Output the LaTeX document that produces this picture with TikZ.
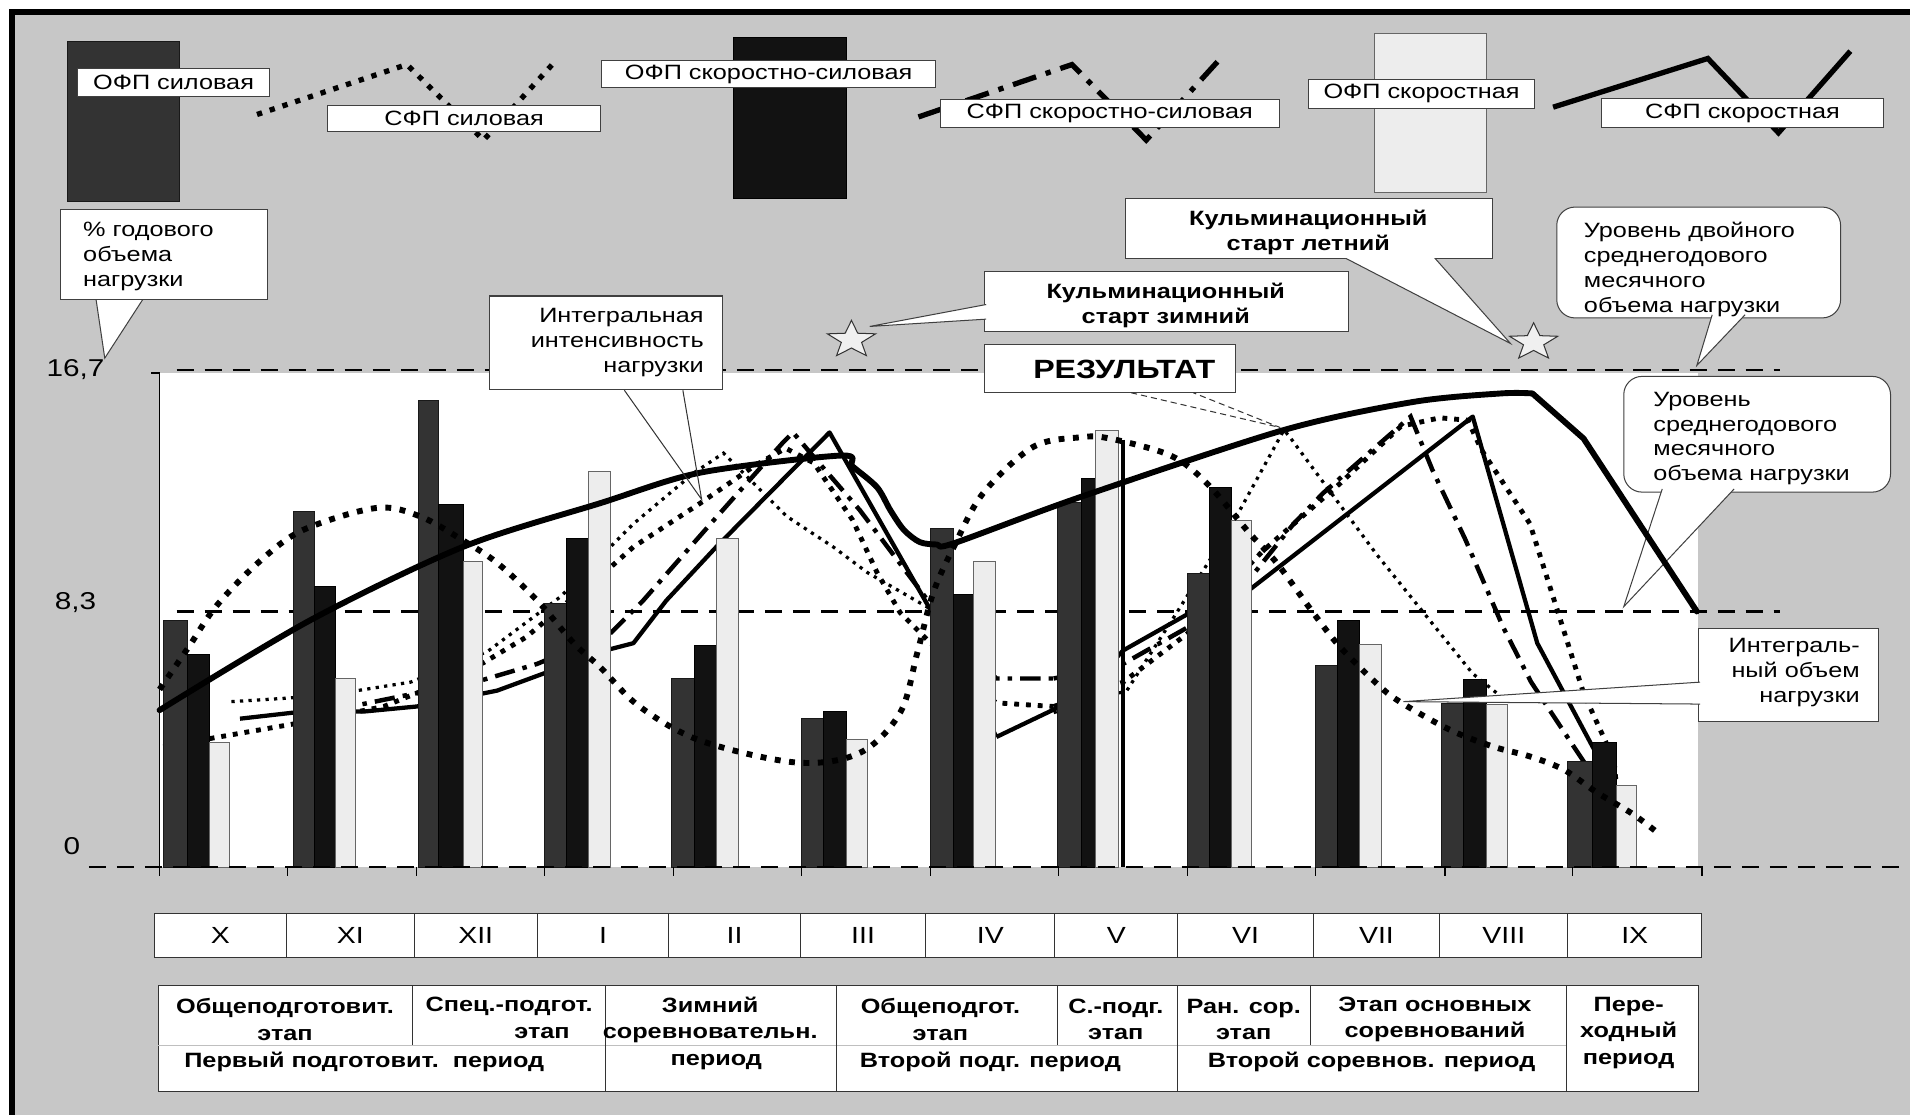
\documentclass[tikz,border=0pt]{standalone}
\usepackage{fontspec}
\setmainfont{Liberation Sans}[FakeStretch=1.22]
\usetikzlibrary{calc}
\newcommand\fsR{\fontsize{10.2}{12.3}\selectfont}
\newcommand\fsB{\fontsize{10.2}{12.3}\selectfont\bfseries}
\newcommand\fsRes{\fontsize{13}{15}\selectfont\bfseries}
\newcommand\fsT{\fontsize{10.2}{12.9}\selectfont\bfseries}
\newcommand\fsM{\fontsize{11.5}{13}\selectfont}
\newcommand\fsAx{\fontsize{12}{14}\selectfont}
\tikzset{
  bxs/.style={draw=black!75, line width=0.5pt, fill=white, inner sep=0pt},
  rbx/.style={bxs, rounded corners=9pt},
  ptr/.style={draw=black!75, line width=0.5pt, fill=white, line join=miter},
  txt/.style={inner sep=0pt, font=\fsR},
  refdash/.style={line width=1.1pt, dash pattern=on 8.4pt off 5.4pt},
  intens/.style={line width=2.9pt, line join=round, line cap=round},
  vol/.style={line width=2.9pt, dash pattern=on 2.9pt off 4.2pt},
  bdot/.style={line width=2.4pt, dash pattern=on 2.4pt off 3.4pt},
  fdot/.style={line width=1.6pt, dash pattern=on 1.6pt off 2.6pt},
  dd/.style={line width=2.2pt, dash pattern=on 10pt off 4pt on 2.2pt off 4pt},
  sol/.style={line width=2.1pt, line join=round},
  darkb/.style={fill=black!80, draw=black!90, line width=0.3pt},
  blkb/.style={fill=black!93, draw=black, line width=0.3pt},
  lgtb/.style={fill=black!7, draw=black!60, line width=0.3pt},
  cell/.style={draw=black!80, line width=0.5pt, fill=white, inner sep=0pt, font=\fsM},
  starpic/.pic={\filldraw[fill=black!6, draw=black!80, line width=0.5pt] (0,-16) -- (5.14,-5.44) -- (19.78,-4.94) -- (8.31,2.08) -- (12.23,12.94) -- (0,6.72) -- (-12.23,12.94) -- (-8.31,2.08) -- (-19.78,-4.94) -- (-5.14,-5.44) -- cycle;}
}
\begin{document}
\begin{tikzpicture}[x=0.6pt,y=-0.6pt]
\useasboundingbox (0,0) rectangle (1568,915);
\fill[white] (0,0) rectangle (1568,915);
\fill[black!22] (10,10) rectangle (1568,915);
\draw[line width=2.7pt] (10,915) -- (10,10) -- (1568,10);
% plot area
\fill[white] (131,306) rectangle (1394,712);
\draw[refdash] (145,304) -- (1461,304);
\draw[refdash] (145,502) -- (1461,502);
% group lines (behind bars)
\draw[fdot] (190,576) -- (238,573) -- (293,567) -- (337,560) -- (400,535) -- (460,490) -- (520,430) -- (570,388) -- (594,372) -- (620,398) -- (646,424) -- (684,449) -- (712,470) -- (764,500);
\draw[bdot] (134,613) -- (197,602) -- (260,591) -- (315,580) -- (347,567) -- (397,544) -- (432,523) -- (465,495) -- (493,473) -- (520,449) -- (575,413) -- (620,382) -- (645,368) -- (668,380) -- (700,427) -- (720,470) -- (739,503) -- (764,528) -- (800,565) -- (818,577) -- (865,580);
\draw[dd] (241,585) -- (293,579) -- (342,569) -- (397,558) -- (441,545) -- (501,520) -- (528,493) -- (586,427) -- (643,363) -- (651,355) -- (668,375) -- (706,419) -- (764,496) -- (800,540) -- (818,557) -- (865,557);
\draw[sol] (197,590) -- (241,585) -- (300,584) -- (342,580) -- (408,567) -- (446,553) -- (493,535) -- (520,528) -- (547,493) -- (588,449) -- (681,355) -- (764,501) -- (818,605);
\draw[sol] (818,605) -- (887,572) -- (922,534) -- (977,503) -- (1026,484) -- (1209,342) -- (1262,528) -- (1309,616);
\draw[dd] (865,557) -- (922,545) -- (975,515) -- (1030,470) -- (1062,430) -- (1086,405) -- (1127,369) -- (1158,342) -- (1176,386) -- (1203,443) -- (1234,515) -- (1257,560) -- (1290,610) -- (1310,640);
\draw[bdot] (865,580) -- (922,560) -- (975,520) -- (1010,480) -- (1037,452) -- (1100,397) -- (1150,350) -- (1182,343) -- (1205,345) -- (1216,369) -- (1256,430) -- (1300,569) -- (1325,624) -- (1330,680);
\draw[fdot] (865,585) -- (925,567) -- (966,503) -- (993,460) -- (1015,424) -- (1054,353) -- (1059,359) -- (1130,455) -- (1209,553) -- (1230,570);
% bars
\foreach \a/\b/\c/\d/\ha/\hb/\hc in {
134/154/172/188/509/537/609,
241/258/275/292/420/481/557,
343/360/380/396/329/414/461,
447/465/483/501/495/442/387,
551/570/588/606/557/530/442,
658/676/695/712/590/584/607,
764/783/799/817/434/488/461,
868/888/899/918/412/393/353,
975/993/1011/1027/471/400/427,
1080/1098/1116/1134/546/509/529,
1183/1201/1220/1237/577/558/578,
1287/1307/1327/1343/625/609/645}{
  \filldraw[darkb] (\a,712) rectangle (\b,\ha);
  \filldraw[blkb] (\b,712) rectangle (\c,\hb);
  \filldraw[lgtb] (\c,712) rectangle (\d,\hc);
}
\draw[line width=1.8pt] (922,361) -- (922,712);
% axes
\draw[refdash] (73,712) -- (1559,712);
\draw[line width=0.9pt] (124,306) -- (131,306) -- (131,719);
\foreach \x in {236,342,447,553,658,764,869,975,1080,1186,1291,1397} \draw[line width=0.8pt] (\x,712) -- (\x,719);
% callout boxes inside plot
\node[bxs, minimum width=88.8pt, minimum height=45.6pt] (biv) at (1468,554) {};
\coordinate (tiv) at (1152,576);
\filldraw[ptr] ($(biv.west)+(2,6)$) -- (tiv) -- ($(biv.west)+(2,24)$);
\node[rbx, minimum width=131.4pt, minimum height=57pt] (bus) at (1442.5,356.5) {};
\coordinate (tus) at (1333,498);
\filldraw[ptr] ($(bus.south west)+(32,-3)$) -- (tus) -- ($(bus.south west)+(91,-3)$);
% volume wave and intensity
\draw[vol] plot[smooth, tension=0.55] coordinates {(131,566) (155,531) (178,497) (213,461) (249,435) (309,417) (345,424) (379,443) (408,462) (441,493) (471,528) (493,548) (525,580) (575,608) (654,626) (706,618) (739,585) (753,536) (766,487) (783,449) (807,405) (848,367) (887,359) (911,360) (961,374) (991,397) (1026,438) (1048,462) (1078,503) (1100,531) (1130,561) (1149,576) (1190,599) (1226,613) (1256,621) (1284,632) (1310,650) (1340,668) (1360,683)};
\draw[intens] plot[smooth, tension=0.5] coordinates {(131,583) (255,509) (380,449) (493,413) (575,388) (690,374) (700,383) (720,400) (731,419) (742,435) (755,445) (769,447) (783,446) (887,408) (1054,353) (1160,330) (1232,323) (1258,323)} -- (1300,360) -- (1393,502);
% intensity callout
\node[bxs, minimum width=114.6pt, minimum height=46.2pt] (bint) at (497.5,281.5) {};
\coordinate (tint) at (576,410);
\draw[black!80, line width=0.5pt] ($(bint.south west)+(111,0)$) -- (tint) -- ($(bint.south west)+(159,0)$);
\node[txt, anchor=east, align=right] (lint) at (578,281) {Интегральная\\интенсивность\\нагрузки};
% result callout
\node[bxs, minimum width=123.6pt, minimum height=23.4pt] (bres) at (911,302.5) {};
\coordinate (tres) at (1051,351);
\draw[black!80, line width=0.5pt, densely dashed] ($(bres.south west)+(121,0)$) -- (tres) -- ($(bres.south west)+(172,0)$);
\node[txt, font=\fsRes] (lres) at (923,303) {РЕЗУЛЬТАТ};
% texts of inner callouts
\node[txt, anchor=west, align=left] (lus) at (1357,360) {Уровень\\среднегодового\\месячного\\объема нагрузки};
\node[txt, anchor=east, align=right] (liv) at (1527,552) {Интеграль-\\ный объем\\нагрузки};
% outer callouts
\coordinate (tpct) at (86,294);
\filldraw[ptr] (78,240) -- (tpct) -- (121,240);
\node[bxs, minimum width=102pt, minimum height=44.4pt] (bpct) at (135,209) {};
\node[txt, anchor=west, align=left] (lpct) at (68,210.5) {\% годового\\объема\\нагрузки};
\pic (s1) at (699,279) {starpic};
\pic (s2) at (1259,281) {starpic};
\node[bxs, minimum width=179.4pt, minimum height=29.4pt] (bkz) at (957.5,247.5) {};
\coordinate (tkz) at (714,268);
\filldraw[ptr] ($(bkz.west)+(2,2.5)$) -- (tkz) -- ($(bkz.west)+(2,14.5)$);
\node[txt, font=\fsB, align=center] (lkz) at (957,251) {Кульминационный\\старт зимний};
\coordinate (tkl) at (1240,282);
\node[bxs, minimum width=180.6pt, minimum height=29.4pt] (bkl) at (1074.5,187.5) {};
\filldraw[ptr] ($(bkl.south west)+(178,-2)$) -- (tkl) -- ($(bkl.south west)+(253,-2)$);
\node[bxs, draw=none, minimum width=180pt, minimum height=28.8pt] (bkl2) at (1074.5,187.5) {};
\node[txt, font=\fsB, align=center] (lkl) at (1074,191) {Кульминационный\\старт летний};
\coordinate (tud) at (1393,300);
\node[rbx, minimum width=139.8pt, minimum height=54.6pt] (bud) at (1394.5,215.5) {};
\filldraw[ptr] ($(bud.south west)+(128,-3)$) -- (tud) -- ($(bud.south west)+(155,-3)$);
\node[txt, anchor=west, align=left] (lud) at (1300,221) {Уровень двойного\\среднегодового\\месячного\\объема нагрузки};
% legend
\filldraw[darkb] (55,34) rectangle (147,165);
\filldraw[blkb] (602,31) rectangle (695,163);
\filldraw[lgtb] (1128,27) rectangle (1220,158);
\draw[line width=2.6pt, dash pattern=on 2.6pt off 4pt] (211,94) -- (334,53) -- (397,115) -- (457,49);
\draw[line width=2.6pt, dash pattern=on 12pt off 5pt on 2.6pt off 5pt] (754,96) -- (880,53) -- (941,115) -- (1001,49);
\draw[line width=2.6pt, line join=miter] (1275,88) -- (1402,48) -- (1460,109) -- (1519,42);
\node[bxs, minimum width=94.2pt, minimum height=13.8pt, font=\fsR] (lg1) at (142.5,67.5) {ОФП силовая};
\node[bxs, minimum width=134.4pt, minimum height=12.6pt, font=\fsR] (lg2) at (381,97.5) {СФП силовая};
\node[bxs, minimum width=164.4pt, minimum height=13.2pt, font=\fsR] (lg3) at (631,61) {ОФП скоростно-силовая};
\node[bxs, minimum width=166.8pt, minimum height=13.8pt, font=\fsR] (lg4) at (911,93.5) {СФП скоростно-силовая};
\node[bxs, minimum width=111.6pt, minimum height=14.4pt, font=\fsR] (lg5) at (1167,77) {ОФП скоростная};
\node[bxs, minimum width=138.6pt, minimum height=14.4pt, font=\fsR] (lg6) at (1430.5,93) {СФП скоростная};
% axis labels
\node[txt, font=\fsAx] (a1) at (62,303) {16,7};
\node[txt, font=\fsAx] (a2) at (62,495) {8,3};
\node[txt, font=\fsAx] (a3) at (59,695) {0};
% months
\foreach \l/\r/\t [count=\i] in {127/235/X,235/340/XI,340/441/XII,441/549/I,549/657/II,657/760/III,760/866/IV,866/967/V,967/1078/VI,1078/1182/VII,1182/1287/VIII,1287/1397/IX}{
  \pgfmathsetmacro\w{(\r-\l)*0.6}
  \node[cell, minimum width=\w pt, minimum height=21.6pt] (m\i) at ({(\l+\r)/2},768) {\t};
}
% stages table
\draw[draw=black!80, line width=0.5pt, fill=white] (130,809) rectangle (1394,896);
\draw[black!25, line width=0.4pt] (130,858) -- (1286,858);
\foreach \x/\yb in {339/858,497/896,687/896,868/858,967/896,1076/858,1286/896} \draw[black!80, line width=0.5pt] (\x,809) -- (\x,\yb);
\node[txt, font=\fsT, align=center] (s1a) at (234,837) {Общеподготовит.\\этап};
\node[txt, font=\fsT] (s2a) at (418,826.5) {Спец.-подгот.};
\node[txt, font=\fsT] (s2b) at (445,848) {этап};
\node[txt, font=\fsT, align=center] (s3a) at (583,837) {Зимний\\соревновательн.};
\node[txt, font=\fsT] (s3b) at (588,872) {период};
\node[txt, font=\fsT] (p1) at (299,872) {Первый подготовит.\ \ период};
\node[txt, font=\fsT, align=center] (s4a) at (772,837) {Общеподгот.\\этап};
\node[txt, font=\fsT] (p2) at (813,872) {Второй подг. период};
\node[txt, font=\fsT, align=center] (s5a) at (916,837) {С.-подг.\\этап};
\node[txt, font=\fsT, align=center] (s6a) at (1021,837) {Ран. сор.\\этап};
\node[txt, font=\fsT, align=center] (s7a) at (1178,837) {Этап основных\\соревнований};
\node[txt, font=\fsT] (p3) at (1126,872) {Второй соревнов. период};
\node[txt, font=\fsT, align=center] (s8a) at (1337,848) {Пере-\\ходный\\период};
\end{tikzpicture}
\end{document}
